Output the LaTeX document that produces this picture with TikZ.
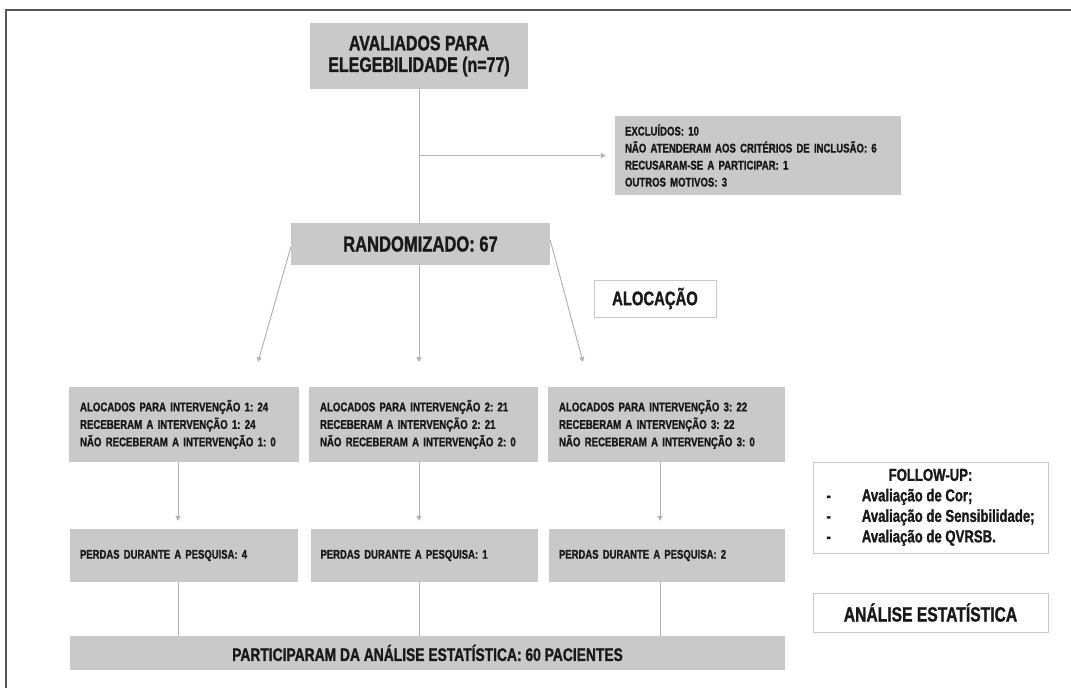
\documentclass[tikz,border=0pt]{standalone}
\usepackage{fontspec}
\setmainfont{Liberation Sans}[FakeStretch=0.76, BoldFeatures={FakeBold=1.2}]
\usetikzlibrary{arrows.meta,calc}
\definecolor{boxgray}{RGB}{201,201,201}
\definecolor{linegray}{RGB}{180,180,180}
\definecolor{framegray}{RGB}{85,85,85}
\definecolor{txt}{RGB}{25,25,25}
\newcommand{\fs}[2]{\bfseries\frenchspacing\fontsize{#1}{#2}\selectfont}
\begin{document}
\begin{tikzpicture}[x=1pt,y=-1pt,
  gbox/.style={fill=boxgray, draw=none, inner sep=0pt, text=txt},
  wbox/.style={fill=white, draw=boxgray, line width=1pt, inner sep=0pt, text=txt},
  conn/.style={draw=linegray, line width=1pt},
  arr/.style={conn, -{Triangle[width=5pt,length=5pt]}}]
\useasboundingbox (0,0) rectangle (1071,688);
\draw[line width=2pt, framegray] (6,688) -- (6,9.5) -- (1071,9.5);

% top
\node[gbox, minimum width=218pt, minimum height=66pt, align=center, font=\fs{21}{21.5}] (top) at (419,56) {AVALIADOS PARA\\ELEGEBILIDADE (n=77)};
\node[gbox, minimum width=286pt, minimum height=79pt, text width=270pt, inner xsep=8pt, align=left, font=\fs{12.6}{17}] (excl) at (758,155.5) {\hspace*{2pt}EXCLUÍDOS: 10\\\hspace*{2pt}NÃO ATENDERAM AOS CRITÉRIOS DE INCLUSÃO: 6\\\hspace*{2pt}RECUSARAM-SE A PARTICIPAR: 1\\\hspace*{2pt}OUTROS MOTIVOS: 3};
\node[gbox, minimum width=259pt, minimum height=42pt, font=\fs{21.8}{22}] (rand) at (420.5,244) {RANDOMIZADO: 67};
\node[wbox, minimum width=122pt, minimum height=37pt, font=\fs{19.5}{20}] (aloc) at (655,298.5) {ALOCAÇÃO};

% row 2
\node[gbox, minimum width=230pt, minimum height=75pt, text width=208pt, inner xsep=11pt, align=left, font=\fs{12.7}{17.5}] (b1) at (184,424.5) {ALOCADOS PARA INTERVENÇÃO 1: 24\\RECEBERAM A INTERVENÇÃO 1: 24\\NÃO RECEBERAM A INTERVENÇÃO 1: 0};
\node[gbox, minimum width=229pt, minimum height=75pt, text width=207pt, inner xsep=11pt, align=left, font=\fs{12.7}{17.5}] (b2) at (423.5,424.5) {ALOCADOS PARA INTERVENÇÃO 2: 21\\RECEBERAM A INTERVENÇÃO 2: 21\\NÃO RECEBERAM A INTERVENÇÃO 2: 0};
\node[gbox, minimum width=237pt, minimum height=75pt, text width=215pt, inner xsep=11pt, align=left, font=\fs{12.7}{17.5}] (b3) at (666.5,424.5) {ALOCADOS PARA INTERVENÇÃO 3: 22\\RECEBERAM A INTERVENÇÃO 3: 22\\NÃO RECEBERAM A INTERVENÇÃO 3: 0};

% row 3
\node[gbox, minimum width=228pt, minimum height=53pt, text width=208pt, inner xsep=10pt, align=left, font=\fs{12.5}{14}] (p1) at (184,555.5) {PERDAS DURANTE A PESQUISA: 4};
\node[gbox, minimum width=227pt, minimum height=53pt, text width=207pt, inner xsep=10pt, align=left, font=\fs{12.5}{14}] (p2) at (424,555.5) {PERDAS DURANTE A PESQUISA: 1};
\node[gbox, minimum width=236pt, minimum height=53pt, text width=216pt, inner xsep=10pt, align=left, font=\fs{12.5}{14}] (p3) at (667,555.5) {PERDAS DURANTE A PESQUISA: 2};

\node[gbox, minimum width=715pt, minimum height=34pt, font=\fs{18.2}{19}] (part) at (427.5,653) {PARTICIPARAM DA ANÁLISE ESTATÍSTICA: 60 PACIENTES};

% right side
\node[wbox, minimum width=235pt, minimum height=91pt, font=\fs{17.3}{20.5}] (follow) at (930.5,507.5) {\begin{tabular}{@{}l@{\hspace{31pt}}l@{}}\multicolumn{2}{c}{FOLLOW-UP:}\\
- & Avaliação de Cor;\\
- & Avaliação de Sensibilidade;\\
- & Avaliação de QVRSB.\end{tabular}};
\node[wbox, minimum width=235pt, minimum height=39pt, font=\fs{20.6}{21}] (anal) at (930.5,612.5) {ANÁLISE ESTATÍSTICA};

% connectors
\draw[conn] (top.south) -- (top.south |- rand.north);
\draw[arr, shorten >=9pt] (top.south |- excl.west) -- (excl.west);
\coordinate (a1) at (258,362);
\coordinate (a3) at (583,362);
\draw[arr] ([yshift=-3pt]rand.west) -- (a1);
\draw[arr] (top.south |- rand.south) -- (top.south |- a1);
\draw[arr] ([yshift=4pt]rand.east) -- (a3);

\coordinate (c1) at (178,0);
\coordinate (c2) at (419,0);
\coordinate (c3) at (660,0);
\draw[arr, shorten >=8pt] (b1.south -| c1) -- (p1.north -| c1);
\draw[arr, shorten >=8pt] (b2.south -| c2) -- (p2.north -| c2);
\draw[arr, shorten >=8pt] (b3.south -| c3) -- (p3.north -| c3);
\draw[conn] (p1.south -| c1) -- (part.north -| c1);
\draw[conn] (p2.south -| c2) -- (part.north -| c2);
\draw[conn] (p3.south -| c3) -- (part.north -| c3);
\end{tikzpicture}
\end{document}
